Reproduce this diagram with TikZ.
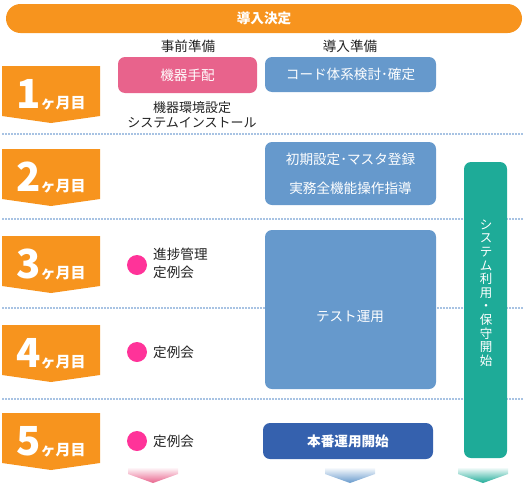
\documentclass[tikz,border=0pt]{standalone}
\usepackage{fontspec}
\setmainfont{Noto Sans CJK JP}
\usepackage{tikz}
\definecolor{orangeM}{HTML}{F7941E}
\definecolor{pinkBox}{HTML}{E8638C}
\definecolor{blueBox}{HTML}{6699CC}
\definecolor{darkBlue}{HTML}{3561AE}
\definecolor{tealBar}{HTML}{1EAB98}
\definecolor{dotPink}{HTML}{FF3399}
\definecolor{sepLine}{HTML}{A8C3E3}
\definecolor{labelInk}{HTML}{222222}
\newcommand{\jp}{\fontsize{13.6}{16}\selectfont}
\newcommand{\monthno}[1]{{\fontsize{40}{40}\selectfont\bfseries #1}{\fontsize{15}{15}\selectfont\bfseries ヶ月目}}

\begin{document}
\begin{tikzpicture}[x=1pt,y=-1pt,
    taskbox/.style={rectangle, rounded corners=7pt, text=white, font=\jp, align=center, inner sep=0pt},
    plainlabel/.style={text=labelInk, font=\jp, align=center, inner sep=0pt},
    sepline/.style={sepLine, line width=1.2pt, dash pattern=on 2pt off 1pt},
    meetdot/.style={circle, fill=dotPink, minimum size=20pt, inner sep=0pt}]
    \useasboundingbox (0,0) rectangle (527,490);

        % separators between months
        \foreach \y in {134,219,308,399} {
            \draw[sepline] (2,\y) -- (523,\y);
        }

        \node[rectangle, rounded corners=14.5pt, fill=orangeM, minimum width=516pt, minimum height=29pt, text=white, font=\jp\bfseries, inner sep=0pt] (decision) at (264,18.5) {導入決定};

        \node[plainlabel] (prephead) at (188,46) {事前準備};
        \node[plainlabel] (introhead) at (350,46) {導入準備};

        % month arrows
        \foreach \m/\t in {1/66,2/149,3/236,4/325,5/413} {
            \fill[orangeM] (2,\t) -- (100,\t) -- (100,\t+50) -- (51,\t+57) -- (2,\t+50) -- cycle;
            \node[anchor=base, text=white, inner sep=0pt] (month\m) at (51,\t+42) {\monthno{\m}};
          }

        \node[taskbox, fill=pinkBox, minimum width=139pt, minimum height=36pt] (kiki) at (187.5,75) {機器手配};
        \node[taskbox, fill=blueBox, minimum width=171pt, minimum height=35pt] (code) at (350.5,74.5) {コード体系検討･確定};
        \node[plainlabel, font=\fontsize{13}{15}\selectfont] (install) at (192,115) {機器環境設定\\システムインストール};

        \node[taskbox, fill=blueBox, minimum width=171pt, minimum height=63pt, font=\fontsize{13.6}{29}\selectfont] (master) at (350.5,173.5) {初期設定･マスタ登録\\実務全機能操作指導};
        \node[taskbox, fill=blueBox, minimum width=171pt, minimum height=159pt] (test) at (350.5,309.5) {};
        \node[text=white, font=\jp, inner sep=0pt] (testlabel) at (350,317) {テスト運用};
        \node[taskbox, fill=darkBlue, minimum width=170pt, minimum height=36pt, font=\jp\bfseries] (honban) at (348,441) {本番運用開始};

        \node[taskbox, fill=tealBar, minimum width=43pt, minimum height=296pt] (system) at (485.5,310) {};
        \node[text=white, font=\fontsize{12.5}{13.6}\selectfont, align=center, inner sep=0pt] (systemlabel) at (486,293) {シ\\ス\\テ\\ム\\利\\用\\・\\保\\守\\開\\始};

        % meetings
        \node[meetdot] (dot3) at (137,265) {};
        \node[plainlabel, anchor=west, align=left, font=\fontsize{13.6}{18}\selectfont] (meet3) at (153,263) {進捗管理\\定例会};
        \node[meetdot] (dot4) at (137,352) {};
        \node[plainlabel, anchor=west] (meet4) at (153,352) {定例会};
        \node[meetdot] (dot5) at (137,441) {};
        \node[plainlabel, anchor=west] (meet5) at (153,441) {定例会};

        % continuation arrows
        \foreach \x/\c in {153/pinkBox,350/blueBox,483/tealBar} {
            \shade[top color=white, bottom color=\c] (\x-25,467) -- (\x+25,467) -- (\x+25,474) -- (\x,483) -- (\x-25,474) -- cycle;
          }

    \end{tikzpicture}
\end{document}
